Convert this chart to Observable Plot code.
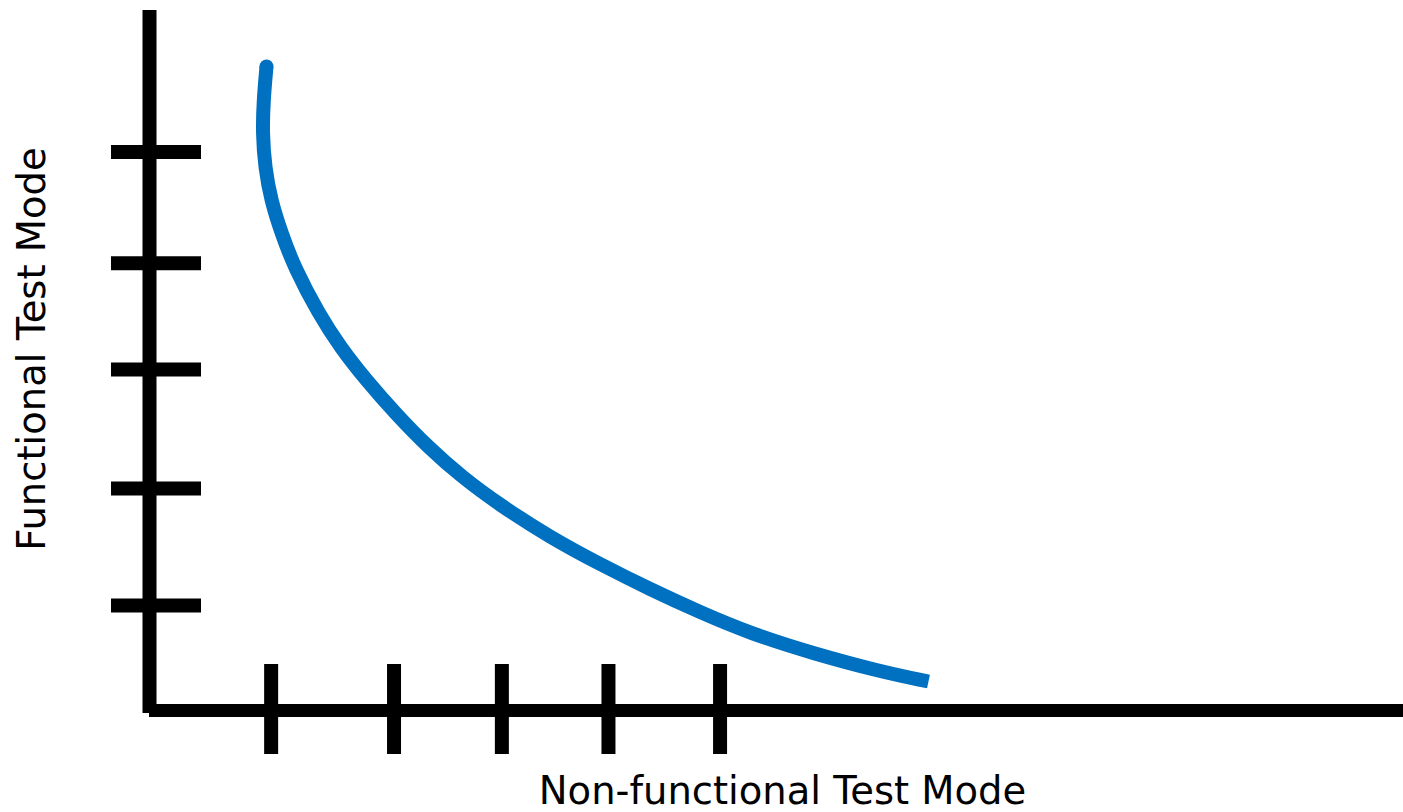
<!DOCTYPE html>
<html>
<head>
<meta charset="utf-8">
<script src="https://cdn.jsdelivr.net/npm/d3@7"></script>
<script src="https://cdn.jsdelivr.net/npm/@observablehq/plot@0.6"></script>
<style>
  html, body { margin: 0; padding: 0; background: #ffffff; }
  #chart { width: 1403px; height: 812px; overflow: hidden; }
</style>
</head>
<body>
<div id="chart"></div>
<script>
// ---- data ----
const xLabel = "Non-functional Test Mode";
const yLabel = "Functional Test Mode";
const xTicks = [9.7, 19.5, 28.1, 36.6, 45.5];
const yTicks = [79.8, 63.9, 48.7, 31.7, 15.0];
const curveX = [9.33, 9.09, 9.01, 9.21, 9.69, 10.53, 11.56, 13.48, 15.23, 17.30, 19.62, 22.25, 24.96, 27.99, 31.98, 35.96, 39.95, 43.94, 47.93, 52.95, 58.29, 62.12];
const curveY = [92.0, 87.14, 82.43, 77.57, 72.86, 68.14, 63.29, 56.71, 51.86, 47.14, 42.43, 37.57, 33.29, 29.29, 24.71, 20.86, 17.29, 14.0, 11.0, 8.14, 5.57, 4.14];

const curve = curveX.map((x, i) => ({x, y: curveY[i]}));
const blue = "#0070C0";

const chart = Plot.plot({
  width: 1403,
  height: 812,
  marginLeft: 149,
  marginRight: 0,
  marginTop: 10,
  marginBottom: 102,
  x: {domain: [0, 100]},
  y: {domain: [0, 100]},
  style: {background: "#ffffff", fontFamily: "DejaVu Sans", color: "#000000"},
  marks: [
    Plot.axisX(xTicks, {anchor: "bottom", tickSize: 90, dy: -46, tickFormat: () => "", label: null, stroke: "#000000", strokeWidth: 14}),
    Plot.axisY(yTicks, {anchor: "left", tickSize: 90, dx: 52, tickFormat: () => "", label: null, stroke: "#000000", strokeWidth: 14}),
    Plot.ruleX([0], {stroke: "#000000", strokeWidth: 14, insetBottom: -3}),
    Plot.ruleY([0], {stroke: "#000000", strokeWidth: 13}),
    Plot.line(curve, {x: "x", y: "y", curve: "basis", stroke: blue, strokeWidth: 14, strokeLinecap: "butt"}),
    Plot.dot(curve.slice(0, 1), {x: "x", y: "y", r: 7, fill: blue, stroke: null}),
    Plot.text([xLabel], {text: d => d, frameAnchor: "bottom", textAnchor: "middle", lineAnchor: "bottom", dx: 6, dy: 93, fontSize: 38.5, fill: "#000000"}),
    Plot.text([yLabel], {text: d => d, frameAnchor: "left", textAnchor: "middle", lineAnchor: "bottom", rotate: -90, dx: -105, dy: -11.5, fontSize: 38.5, fill: "#000000"})
  ]
});
document.getElementById("chart").appendChild(chart);
</script>
</body>
</html>
